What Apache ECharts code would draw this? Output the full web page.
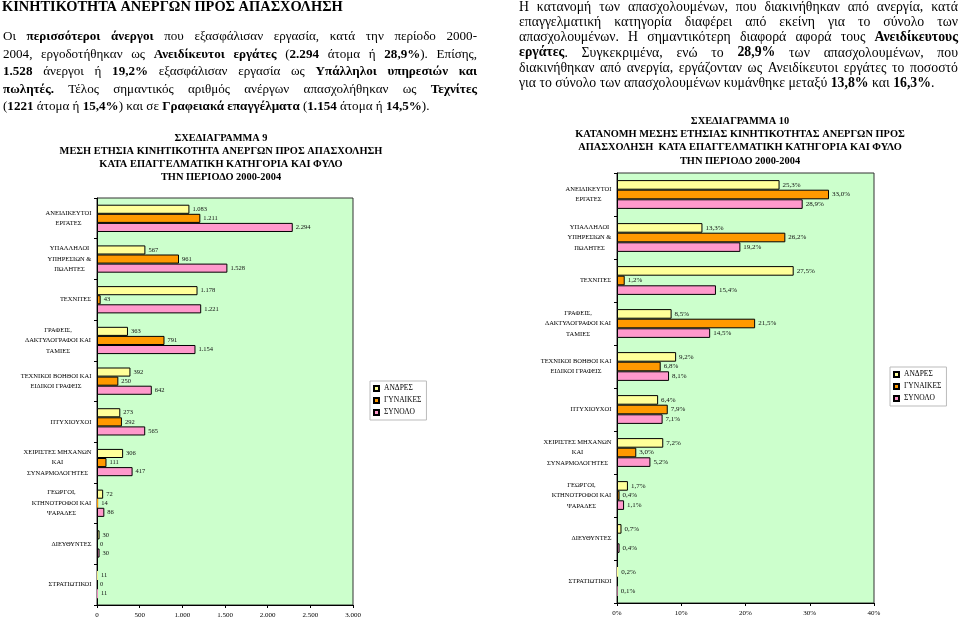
<!DOCTYPE html>
<html><head><meta charset="utf-8">
<script src="https://cdn.jsdelivr.net/npm/echarts@6/dist/echarts.min.js"></script>
<style>html,body{margin:0;padding:0;background:#fff}#c{width:960px;height:620px}</style>
</head><body><div id="c"></div>
<script>
// ---------- DATA ----------
const categories = [
  'ΑΝΕΙΔΙΚΕΥΤΟΙ\nΕΡΓΑΤΕΣ',
  'ΥΠΑΛΛΗΛΟΙ\nΥΠΗΡΕΣΙΩΝ &\nΠΩΛΗΤΕΣ',
  'ΤΕΧΝΙΤΕΣ',
  'ΓΡΑΦΕΙΣ,\nΔΑΚΤΥΛΟΓΡΑΦΟΙ ΚΑΙ\nΤΑΜΙΕΣ',
  'ΤΕΧΝΙΚΟΙ ΒΟΗΘΟΙ ΚΑΙ\nΕΙΔΙΚΟΙ ΓΡΑΦΕΙΣ',
  'ΠΤΥΧΙΟΥΧΟΙ',
  'ΧΕΙΡΙΣΤΕΣ ΜΗΧΑΝΩΝ\nΚΑΙ\nΣΥΝΑΡΜΟΛΟΓΗΤΕΣ',
  'ΓΕΩΡΓΟΙ,\nΚΤΗΝΟΤΡΟΦΟΙ ΚΑΙ\nΨΑΡΑΔΕΣ',
  'ΔΙΕΥΘΥΝΤΕΣ',
  'ΣΤΡΑΤΙΩΤΙΚΟΙ'
];
const seriesNames = ['ΑΝΔΡΕΣ', 'ΓΥΝΑΙΚΕΣ', 'ΣΥΝΟΛΟ'];
// Chart 9: persons
const men9   = [1083, 567, 1178, 363, 392, 273, 306, 72, 30, 11];
const women9 = [1211, 961, 43, 791, 250, 292, 111, 14, 0, 0];
const total9 = [2294, 1528, 1221, 1154, 642, 565, 417, 86, 30, 11];
// Chart 10: percentages
const men10   = [25.3, 13.3, 27.5, 8.5, 9.2, 6.4, 7.2, 1.7, 0.7, 0.2];
const women10 = [33.0, 26.2, 1.2, 21.5, 6.8, 7.9, 3.0, 0.4, 0, 0];
const total10 = [28.9, 19.2, 15.4, 14.5, 8.1, 7.1, 5.2, 1.1, 0.4, 0.1];
const axis9  = {min: 0, max: 3000, interval: 500};
const axis10 = {min: 0, max: 40, interval: 10};

const heading = 'ΚΙΝΗΤΙΚΟΤΗΤΑ ΑΝΕΡΓΩΝ ΠΡΟΣ ΑΠΑΣΧΟΛΗΣΗ';
const paraLeft = [
  'Οι **περισσότεροι άνεργοι** που εξασφάλισαν εργασία, κατά την περίοδο 2000-',
  '2004, εργοδοτήθηκαν ως **Ανειδίκευτοι εργάτες** (**2.294** άτομα ή **28,9%**). Επίσης,',
  '**1.528** άνεργοι ή **19,2%** εξασφάλισαν εργασία ως **Υπάλληλοι υπηρεσιών και**',
  '**πωλητές.** Τέλος σημαντικός αριθμός ανέργων απασχολήθηκαν ως **Τεχνίτες**',
  '(**1221** άτομα ή **15,4%**) και σε **Γραφειακά επαγγέλματα** (**1.154** άτομα ή **14,5%**).'
];
const paraRight = [
  'Η κατανομή των απασχολουμένων, που διακινήθηκαν από ανεργία, κατά',
  'επαγγελματική κατηγορία διαφέρει από εκείνη για το σύνολο των',
  'απασχολουμένων. Η σημαντικότερη διαφορά αφορά τους **Ανειδίκευτους**',
  '**εργάτες**. Συγκεκριμένα, ενώ το **28,9%** των απασχολουμένων, που',
  'διακινήθηκαν από ανεργία, εργάζονταν ως Ανειδίκευτοι εργάτες το ποσοστό',
  'για το σύνολο των απασχολουμένων κυμάνθηκε μεταξύ **13,8%** και **16,3%**.'
];
const title9 = 'ΣΧΕΔΙΑΓΡΑΜΜΑ 9\nΜΕΣΗ ΕΤΗΣΙΑ ΚΙΝΗΤΙΚΟΤΗΤΑ ΑΝΕΡΓΩΝ ΠΡΟΣ ΑΠΑΣΧΟΛΗΣΗ\nΚΑΤΑ ΕΠΑΓΓΕΛΜΑΤΙΚΗ ΚΑΤΗΓΟΡΙΑ ΚΑΙ ΦΥΛΟ\nΤΗΝ ΠΕΡΙΟΔΟ 2000-2004';
const title10 = 'ΣΧΕΔΙΑΓΡΑΜΜΑ 10\nΚΑΤΑΝΟΜΗ ΜΕΣΗΣ ΕΤΗΣΙΑΣ ΚΙΝΗΤΙΚΟΤΗΤΑΣ ΑΝΕΡΓΩΝ ΠΡΟΣ\nΑΠΑΣΧΟΛΗΣΗ  ΚΑΤΑ ΕΠΑΓΓΕΛΜΑΤΙΚΗ ΚΑΤΗΓΟΡΙΑ ΚΑΙ ΦΥΛΟ\nΤΗΝ ΠΕΡΙΟΔΟ 2000-2004';

// ---------- HELPERS ----------
const FONT = '"Liberation Serif", "Times New Roman", serif';
const COLORS = ['#FFFF99', '#FF9900', '#FF99CC'];
const mctx = document.createElement('canvas').getContext('2d');
function fontStr(size, bold) { return (bold ? 'bold ' : '') + size + 'px ' + FONT; }
function measure(t, size, bold) { mctx.font = fontStr(size, bold); return mctx.measureText(t).width; }

function parseLine(s) {
  const words = []; let bold = false, cur = [], buf = '';
  const flush = () => { if (buf) { cur.push({t: buf, b: bold}); buf = ''; } };
  for (let i = 0; i < s.length; i++) {
    if (s[i] === '*' && s[i + 1] === '*') { flush(); bold = !bold; i++; continue; }
    if (s[i] === ' ') { flush(); if (cur.length) words.push(cur); cur = []; continue; }
    buf += s[i];
  }
  flush(); if (cur.length) words.push(cur);
  return words;
}
function lineWidthNatural(s, size) {
  const words = parseLine(s);
  let w = 0;
  words.forEach(wd => wd.forEach(r => { w += measure(r.t, size, r.b); }));
  return w + (words.length - 1) * measure(' ', size, false);
}
function layoutLine(s, x0, y, width, size, justify, out) {
  const words = parseLine(s);
  const widths = words.map(wd => wd.reduce((a, r) => a + measure(r.t, size, r.b), 0));
  const sum = widths.reduce((a, b) => a + b, 0);
  const gap = (justify && words.length > 1) ? (width - sum) / (words.length - 1) : measure(' ', size, false);
  let x = x0;
  words.forEach((wd, i) => {
    let xr = x;
    wd.forEach(r => {
      out.push({type: 'text', x: xr, y: y, silent: true,
        style: {text: r.t, font: fontStr(size, r.b), fill: '#000', align: 'left', verticalAlign: 'middle'}});
      xr += measure(r.t, size, r.b);
    });
    x += widths[i] + gap;
  });
}
function paragraph(lines, x0, width, y0, lh, lastWidth, out) {
  const size = 13 * lastWidth / lineWidthNatural(lines[lines.length - 1], 13);
  lines.forEach((l, i) => layoutLine(l, x0, y0 + i * lh, width, size, i < lines.length - 1, out));
}

function catRich(size, lh) {
  const rich = {};
  categories.forEach((c, i) => {
    const w = Math.max(...c.split('\n').map(l => measure(l, size, false)));
    rich['c' + i] = {width: Math.ceil(w) + 1, align: 'center', fontSize: size, fontFamily: FONT, color: '#000', lineHeight: lh};
  });
  return rich;
}
const catFormatter = (v, i) => v.split('\n').map(l => '{c' + i + '|' + l + '}').join('\n');
const fmtThousands = v => String(v).replace(/\B(?=(\d{3})+(?!\d))/g, '.');
const fmtPct = v => v.toFixed(1).replace('.', ',') + '%';

function barSeries(name, data, color, idx, fmt, labelSize, axisMax) {
  return {
    type: 'bar', name: name, xAxisIndex: idx, yAxisIndex: idx,
    data: data.map(v => (v / axisMax < 0.006) ? {value: v, itemStyle: {borderWidth: 0}} : v),
    barGap: '0%', barCategoryGap: '33%',
    itemStyle: {color: color, borderColor: '#000', borderWidth: 1},
    label: {show: true, position: 'right', distance: 3, fontFamily: FONT, fontSize: labelSize, color: '#111',
      formatter: p => fmt(p.value)},
    emphasis: {disabled: true}
  };
}

// ---------- GRAPHIC TEXT ----------
const g = [];
const headSize = 13 * 341 / measure(heading, 13, true);
g.push({type: 'text', x: 2, y: 7, silent: true, style: {text: heading, font: fontStr(headSize, true), fill: '#000', verticalAlign: 'middle'}});
paragraph(paraLeft, 3, 474, 37, 17.5, 427, g);
paragraph(paraRight, 519, 439, 7, 15.3, 416, g);
g.push({type: 'text', x: 221, y: 131.5, silent: true, style: {text: title9, font: fontStr(10.4, true), lineHeight: 13, fill: '#000', align: 'center', verticalAlign: 'top'}});
g.push({type: 'text', x: 740, y: 114.5, silent: true, style: {text: title10, font: fontStr(10.4, true), lineHeight: 13.3, fill: '#000', align: 'center', verticalAlign: 'top'}});

// ---------- CHART ----------
const chart = echarts.init(document.getElementById('c'), null, {renderer: 'canvas'});
function xAxisCfg(idx, ax, fmt) {
  return {gridIndex: idx, type: 'value', min: ax.min, max: ax.max, interval: ax.interval,
    axisLine: {show: true, lineStyle: {color: '#000', width: 1}},
    axisTick: {show: true, length: 3, lineStyle: {color: '#000'}},
    splitLine: {show: false},
    axisLabel: {margin: 7, fontFamily: FONT, fontSize: 7, color: '#000', formatter: fmt}};
}
function yAxisCfg(idx) {
  return {gridIndex: idx, type: 'category', data: categories, inverse: true,
    axisLine: {show: true, lineStyle: {color: '#000', width: 1}},
    axisTick: {show: true, length: 3, lineStyle: {color: '#000'}},
    axisLabel: {interval: 0, margin: 5, formatter: catFormatter, rich: catRich(6.5, 10.5), fontFamily: FONT, fontSize: 6.5, color: '#000'}};
}
function legendCfg(left, top) {
  return {data: seriesNames, orient: 'vertical', left: left, top: top, icon: 'rect', itemWidth: 5, itemHeight: 5,
    itemGap: 3, padding: [3, 5, 3, 3], borderColor: '#bbb', borderWidth: 1, backgroundColor: '#fff',
    selectedMode: false, textStyle: {fontFamily: FONT, fontSize: 7.5, color: '#000', lineHeight: 9}};
}
chart.setOption({
  animation: false,
  backgroundColor: '#fff',
  grid: [
    {left: 97, top: 198, width: 256, height: 407, show: true, backgroundColor: '#CCFFCC', borderColor: '#333', borderWidth: 1},
    {left: 617, top: 173, width: 257, height: 430, show: true, backgroundColor: '#CCFFCC', borderColor: '#333', borderWidth: 1}
  ],
  xAxis: [xAxisCfg(0, axis9, v => fmtThousands(v)), xAxisCfg(1, axis10, v => v + '%')],
  yAxis: [yAxisCfg(0), yAxisCfg(1)],
  legend: [legendCfg(370, 381), legendCfg(890, 367)],
  series: [
    barSeries(seriesNames[0], men9, COLORS[0], 0, fmtThousands, 6.5, axis9.max),
    barSeries(seriesNames[1], women9, COLORS[1], 0, fmtThousands, 6.5, axis9.max),
    barSeries(seriesNames[2], total9, COLORS[2], 0, fmtThousands, 6.5, axis9.max),
    barSeries(seriesNames[0], men10, COLORS[0], 1, v => v === 0 ? '' : fmtPct(v), 7, axis10.max),
    barSeries(seriesNames[1], women10, COLORS[1], 1, v => v === 0 ? '' : fmtPct(v), 7, axis10.max),
    barSeries(seriesNames[2], total10, COLORS[2], 1, v => v === 0 ? '' : fmtPct(v), 7, axis10.max)
  ],
  graphic: g
});
</script></body></html>
